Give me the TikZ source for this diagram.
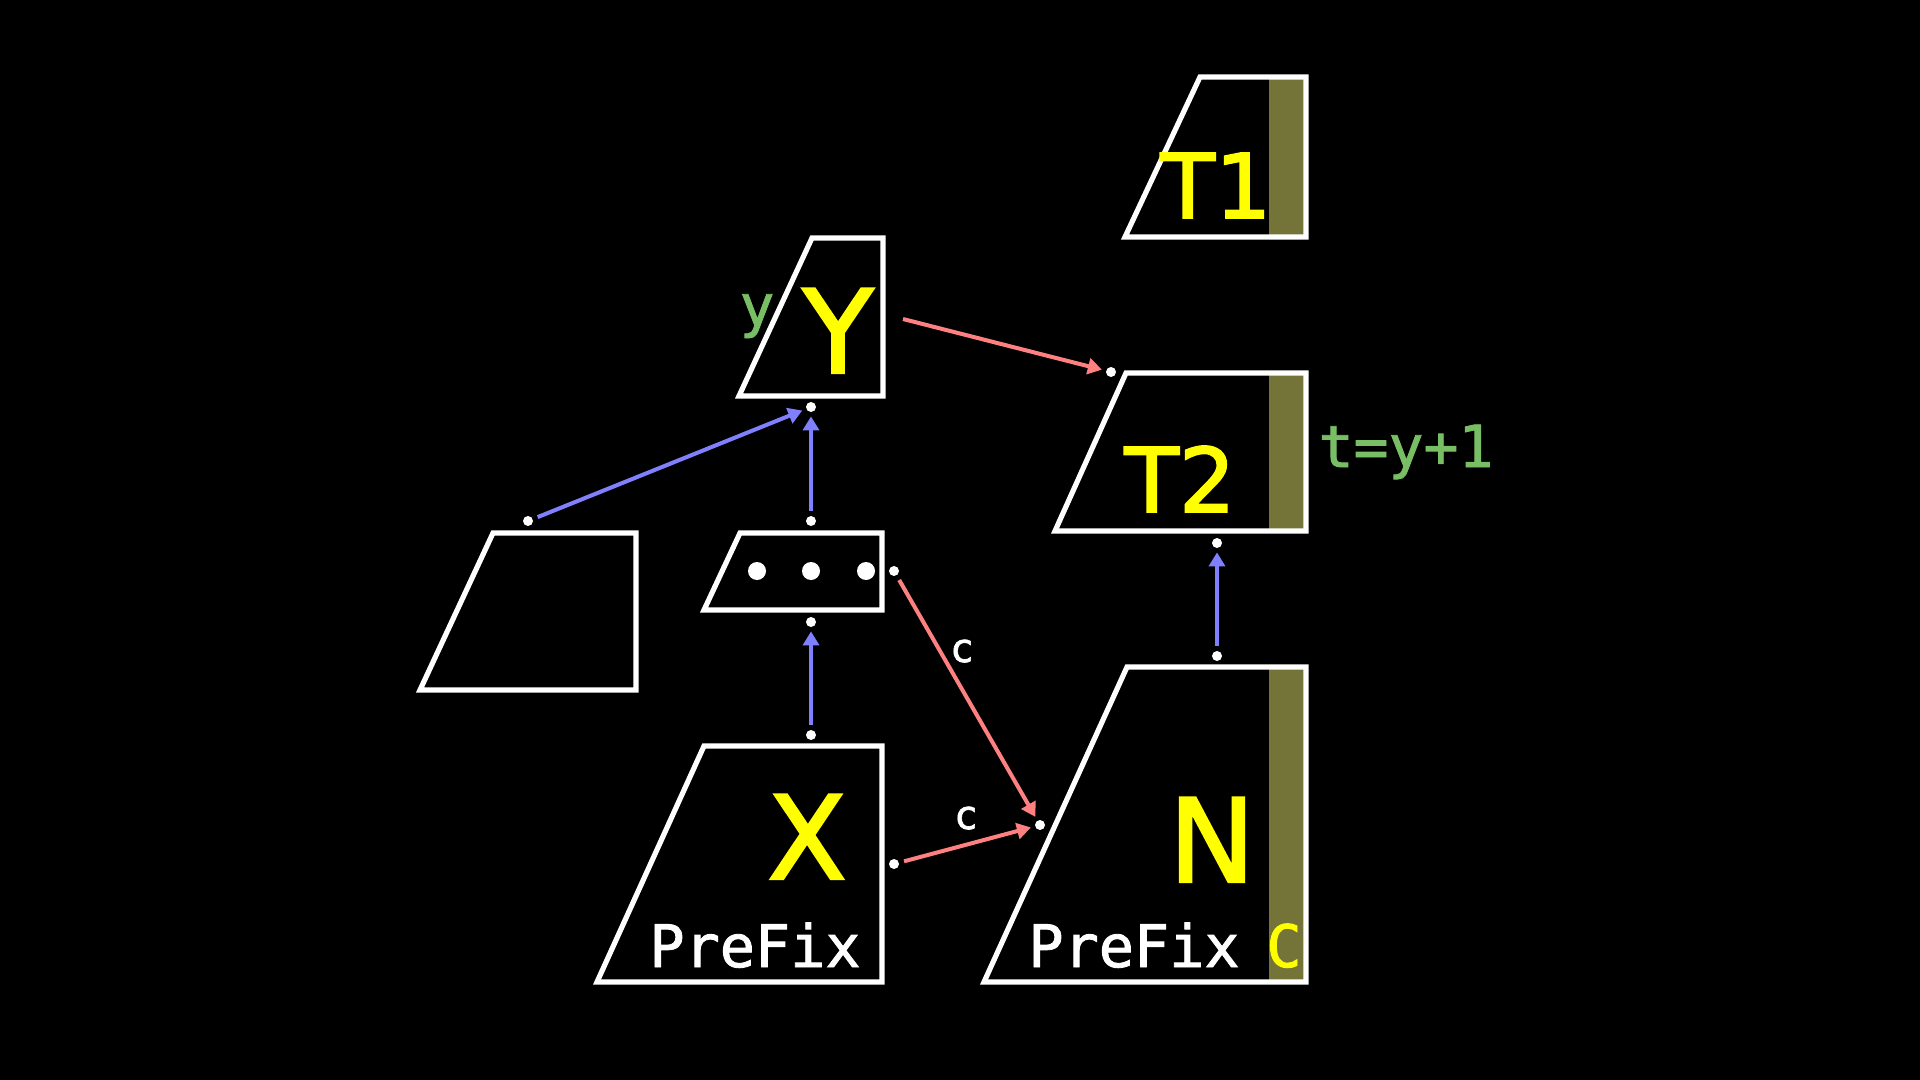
\documentclass[tikz,border=0pt]{standalone}
\usepackage{fontspec}
\newfontfamily\sansf[FakeBold=2]{DejaVu Sans}
\newfontfamily\monof[FakeBold=1.5]{DejaVu Sans Mono}
\usetikzlibrary{arrows.meta}
\definecolor{olivebar}{RGB}{116,116,56}
\definecolor{arrblue}{RGB}{128,128,255}
\definecolor{arrred}{RGB}{255,128,128}
\definecolor{lblgreen}{RGB}{120,190,100}
\definecolor{ylw}{RGB}{255,255,0}
\begin{document}
\begin{tikzpicture}[x=0.5pt,y=-0.5pt,
  box/.style={draw=white,line width=2.6pt},
  barfill/.style={fill=olivebar},
  pt/.style={circle,fill=white,inner sep=0pt,minimum size=5pt},
  bigdot/.style={circle,fill=white,inner sep=0pt,minimum size=9pt},
  link/.style={line width=2pt,-{Triangle[length=7pt,width=8pt]},shorten <=2.5pt,shorten >=2pt},
  bluearrow/.style={link,draw=arrblue,fill=arrblue},
  redarrow/.style={link,draw=arrred,fill=arrred},
  biglbl/.style={text=ylw,font=\sansf\fontsize{58}{60}\selectfont,inner sep=0pt,anchor=base},
  midlbl/.style={text=ylw,font=\sansf\fontsize{44.5}{46}\selectfont,inner sep=0pt,anchor=base},
  pfxlbl/.style={text=white,font=\monof\fontsize{29.25}{31}\selectfont,inner sep=0pt,anchor=base},
  greenlbl/.style={text=lblgreen,font=\monof\fontsize{29}{31}\selectfont,inner sep=0pt,anchor=base},
  clbl/.style={text=white,font=\monof\fontsize{20}{22}\selectfont,inner sep=0pt,anchor=base}]
% background
\fill[black] (0,0) rectangle (1920,1080);
\useasboundingbox (0,0) rectangle (1920,1080);
% olive bars
\fill[barfill] (1269,77) rectangle (1306,237);
\fill[barfill] (1269,373) rectangle (1306,531);
\fill[barfill] (1269,668) rectangle (1306,982);
% trapezoids
\draw[box] (1200,77) -- (1306,77) -- (1306,237) -- (1125,237) -- cycle;   % T1
\draw[box] (812,238) -- (883,238) -- (883,396) -- (739,396) -- cycle;     % Y
\draw[box] (1126,373) -- (1306,373) -- (1306,531) -- (1055,531) -- cycle; % T2
\draw[box] (493,533) -- (636,533) -- (636,690) -- (420,690) -- cycle;     % empty
\draw[box] (740,533) -- (882,533) -- (882,610) -- (704,610) -- cycle;     % dots
\draw[box] (704,746) -- (882,746) -- (882,982) -- (597,982) -- cycle;     % X
\draw[box] (1127,667) -- (1306,667) -- (1306,982) -- (984,982) -- cycle;  % N
% big dots in the dots box
\node[bigdot] (d1) at (757,571) {};
\node[bigdot] (d2) at (811,571) {};
\node[bigdot] (d3) at (866,571) {};
% labels
\node[midlbl] (lT1) at (1216,218) {T1};
\node[midlbl] (lT2) at (1180,512) {T2};
\node[biglbl] (lY) at (838,373) {Y};
\node[biglbl] (lX) at (807,879) {X};
\node[biglbl] (lN) at (1212,882) {N};
\node[pfxlbl] (pX) at (755,967) {PreFix};
\node[pfxlbl] (pN) at (1134,967) {PreFix};
\node[pfxlbl,text=ylw] (lC) at (1284,967) {C};
\node[greenlbl] (ly) at (757,326) {y};
\node[greenlbl] (lt) at (1406,467) {t=y+1};
\node[clbl] (c1) at (962,662) {c};
\node[clbl] (c2) at (966,829) {c};
% connection points
\node[pt] (yb) at (811,407) {};
\node[pt] (dt) at (811,521) {};
\node[pt] (db) at (811,622) {};
\node[pt] (xt) at (811,735) {};
\node[pt] (et) at (528,521) {};
\node[pt] (dr) at (894,571) {};
\node[pt] (xr) at (894,864) {};
\node[pt] (nl) at (1040,825) {};
\node[pt] (t2l) at (1111,372) {};
\node[pt] (t2b) at (1217,543) {};
\node[pt] (nt) at (1217,656) {};
\coordinate (yr) at (903,319);
% arrows
\draw[bluearrow] (xt) -- (db);
\draw[bluearrow] (dt) -- (yb);
\draw[bluearrow] (et) -- (yb);
\draw[bluearrow] (nt) -- (t2b);
\draw[redarrow,shorten <=0pt] (yr) -- (t2l);
\draw[redarrow] (dr) -- (nl);
\draw[redarrow] (xr) -- (nl);
\end{tikzpicture}
\end{document}
